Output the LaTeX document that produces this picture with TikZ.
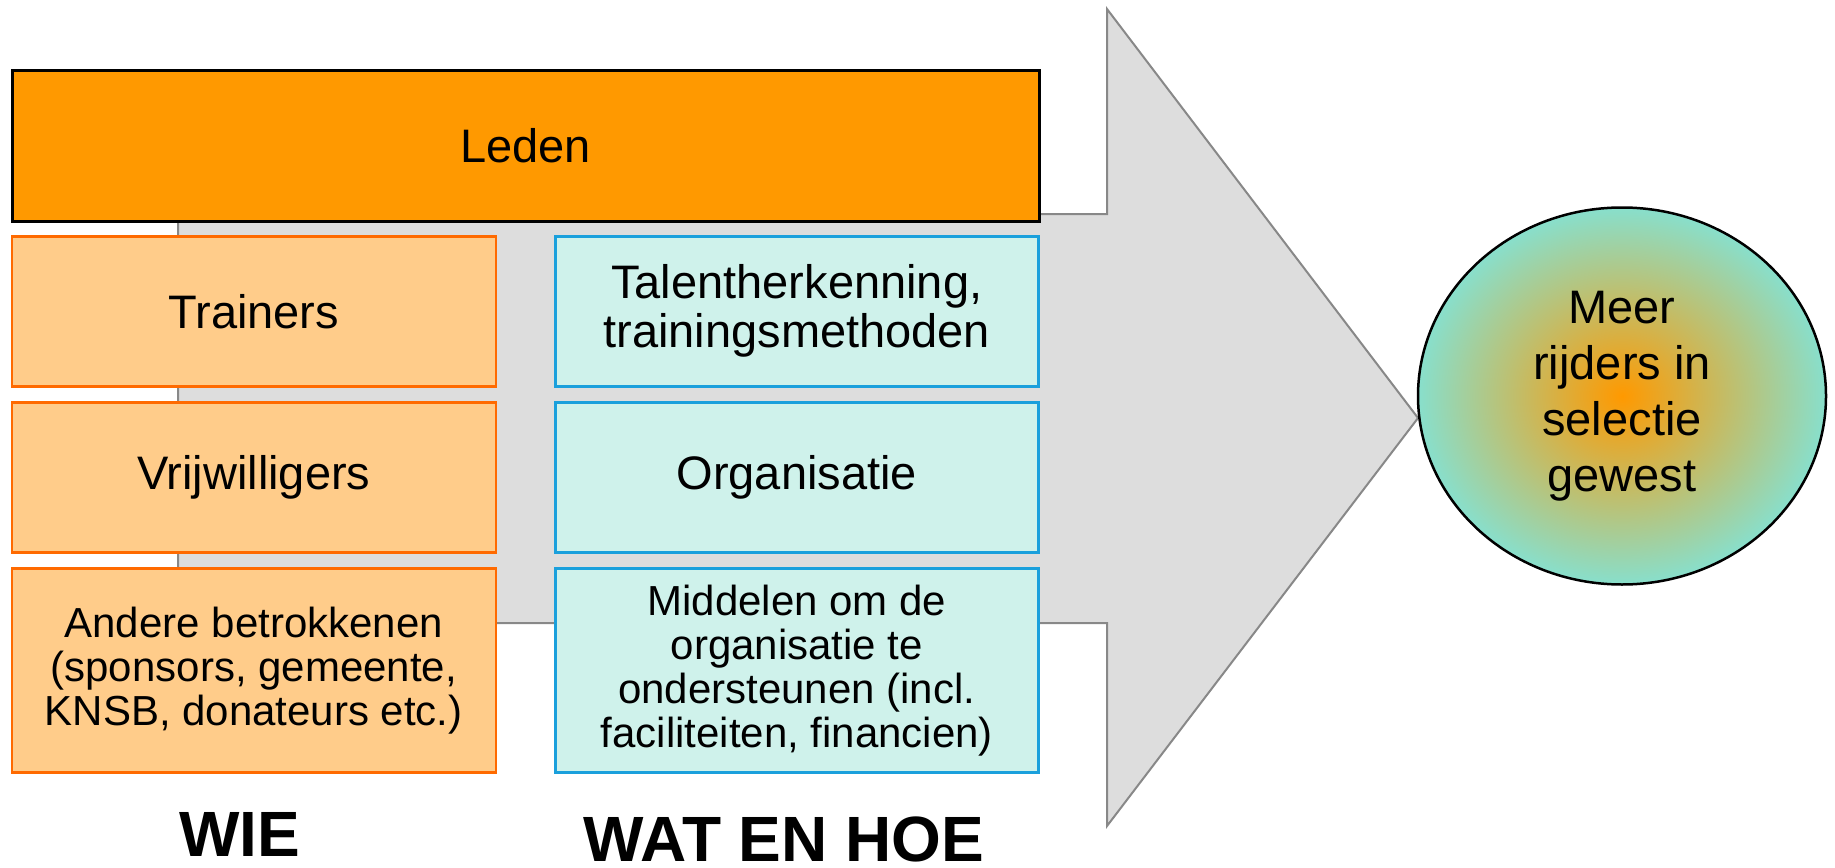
\documentclass[tikz,border=0pt]{standalone}
\usepackage{fontspec}
\setmainfont{Liberation Sans}
\usepackage{tikz}
\usetikzlibrary{shapes.geometric, positioning}

\definecolor{ledenfill}{HTML}{FF9900}
\definecolor{wiefill}{HTML}{FFCC8A}
\definecolor{wieline}{HTML}{FF6A00}
\definecolor{watfill}{HTML}{CFF2EB}
\definecolor{watline}{HTML}{1AA0DC}
\definecolor{arrowfill}{HTML}{DDDDDD}
\definecolor{arrowline}{HTML}{888888}
\definecolor{doelouter}{HTML}{88DFCC}

\begin{document}
\begin{tikzpicture}[
      x=1pt, y=1pt,
      leden/.style={
          rectangle,
          draw=black,
          line width=3pt,
          fill=ledenfill,
          align=center,
          minimum width=1027pt,
          minimum height=151pt,
          font=\fontsize{47}{49}\selectfont
        },
      wie/.style={
          rectangle,
          draw=wieline,
          line width=2.5pt,
          fill=wiefill,
          align=center,
          minimum width=484pt,
          minimum height=150pt,
          font=\fontsize{47}{49}\selectfont
        },
      wat/.style={
          rectangle,
          draw=watline,
          line width=2.5pt,
          fill=watfill,
          align=center,
          minimum width=483pt,
          minimum height=150pt,
          font=\fontsize{47}{49}\selectfont
        },
      small/.style={
          minimum height=204pt,
          font=\fontsize{42}{44}\selectfont
        },
      doel/.style={
          ellipse,
          draw=black,
          line width=2.5pt,
          shading=radial,
          inner color=ledenfill,
          outer color=doelouter,
          align=center,
          minimum width=408pt,
          minimum height=377pt,
          inner sep=0pt,
          font=\fontsize{47}{56}\selectfont
        },
      kop/.style={
          anchor=base,
          font=\fontsize{64}{70}\selectfont\bfseries
        },
      bigarrow/.style={
          draw=arrowline,
          line width=2pt,
          fill=arrowfill,
          line join=miter
        }
    ]
    \useasboundingbox (0,0) rectangle (1835,-867);

    % Arrow
    \draw[bigarrow] (178,-214) -- (1107,-214) -- (1107,-9) -- (1418,-418)
      -- (1107,-826) -- (1107,-623) -- (178,-623) -- cycle;

    % Nodes
    \node[leden] (leden) at (525.5,-145.5) {Leden};
    \node[wie, below right=12.5pt and 0pt of leden.south west] (trainers) {Trainers};
    \node[wie, below=13.5pt of trainers] (vrijw) {Vrijwilligers};
    \node[wie, small, below=13.5pt of vrijw] (andere) {Andere betrokkenen\\(sponsors, gemeente,\\KNSB, donateurs etc.)};
    \node[wat, right=57pt of trainers] (talent) {Talentherkenning,\\trainingsmethoden};
    \node[wat, below=13.5pt of talent] (organisatie) {Organisatie};
    \node[wat, small, below=13.5pt of organisatie] (middelen) {Middelen om de\\organisatie te\\ondersteunen (incl.\\faciliteiten, financien)};
    \node[doel] (doel) at (1622,-396) {Meer\\rijders in\\selectie\\gewest};

    % Headings
    \node[kop] (wie) at (240,-856) {WIE};
    \node[kop] (wat) at (784,-861) {WAT EN HOE};
  \end{tikzpicture}
\end{document}
